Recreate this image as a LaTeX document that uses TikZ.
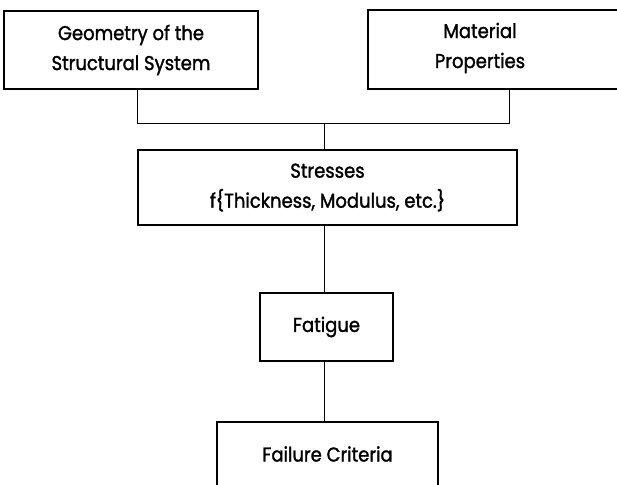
\documentclass[tikz,border=0pt]{standalone}
\usepackage{fontspec}
\setmainfont{Poppins}[FakeStretch=0.9, FakeBold=1.5]
\begin{document}
\begin{tikzpicture}[x=1pt,y=-1pt,
  box/.style={draw, line width=2.2pt, rectangle, inner sep=0pt, align=center, font=\fontsize{20}{30}\selectfont},
  txt/.style={inner sep=0pt, align=center, font=\fontsize{20}{30}\selectfont},
  wire/.style={line width=1pt}]
\useasboundingbox (0,0) rectangle (617,484);
\node[box, minimum width=254, minimum height=78] (geom) at (131,50) {Geometry of the\\Structural System};
\node[box, minimum width=256, minimum height=79] (mat) at (496,49.5) {};
\node[txt] (matt) at (480,48) {Material\\Properties};
\node[box, minimum width=379, minimum height=75] (str) at (327.5,187.5) {Stresses\\f\{Thickness, Modulus, etc.\}};
\node[box, minimum width=133, minimum height=68] (fat) at (326.5,327) {Fatigue};
\node[box, minimum width=221, minimum height=64] (fail) at (327.5,454) {Failure Criteria};
\coordinate (jl) at (137,123);
\coordinate (jr) at (509,123);
\coordinate (jm) at (324,123);
\draw[wire] (geom.south -| jl) -- (jl) -- (jr) -- (mat.south -| jr);
\draw[wire] (jm) -- (str.north -| jm);
\draw[wire] (str.south -| jm) -- (fat.north -| jm);
\draw[wire] (fat.south -| jm) -- (fail.north -| jm);
\end{tikzpicture}
\end{document}
